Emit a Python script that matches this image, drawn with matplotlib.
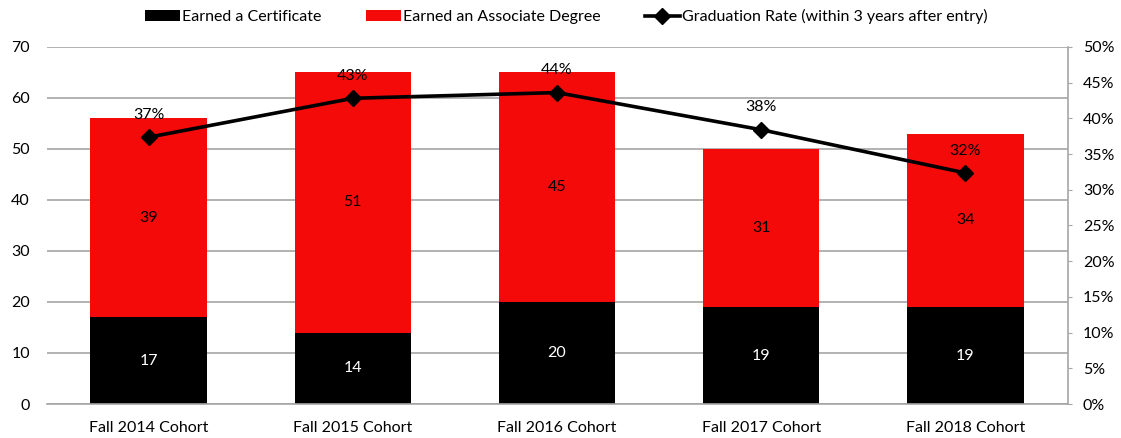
import numpy as np
import matplotlib
matplotlib.use('Agg')
import matplotlib.pyplot as plt
from matplotlib.ticker import FuncFormatter

plt.rcParams['font.family'] = ['Lato', 'DejaVu Sans']

cohorts = ['Fall 2014 Cohort', 'Fall 2015 Cohort', 'Fall 2016 Cohort',
           'Fall 2017 Cohort', 'Fall 2018 Cohort']
certificates = [17, 14, 20, 19, 19]
associates = [39, 51, 45, 31, 34]
grad_rate = [37.35, 42.8, 43.6, 38.4, 32.35]   # percent

fig = plt.figure(figsize=(11.21, 4.38), dpi=100)
ax = fig.add_axes([46.5 / 1121, 0.0776, 1021 / 1121, 0.8154])
ax2 = ax.twinx()

x = np.arange(len(cohorts))
w = 0.57
red = '#F50A0A'
grid_c = '#A6A6A6'

b1 = ax.bar(x, certificates, w, color='black', label='Earned a Certificate', zorder=2)
b2 = ax.bar(x, associates, w, bottom=certificates, color=red,
            label='Earned an Associate Degree', zorder=2)

for xi, c, a in zip(x, certificates, associates):
    ax.text(xi, c / 2, f'{c}', ha='center', va='center', color='white', fontsize=11.5)
    ax.text(xi, c + a / 2, f'{a}', ha='center', va='center', color='black', fontsize=11.5)

ax.set_xlim(-0.5, len(cohorts) - 0.5)
ax.set_ylim(0, 70)
ax.set_yticks(range(0, 71, 10))
ax.yaxis.grid(True, color=grid_c, linewidth=1.2)
ax.set_axisbelow(True)
ax.tick_params(axis='y', length=0, labelsize=11.5, pad=12)
ax.tick_params(axis='x', length=0, labelsize=11.5, pad=12)
ax.set_xticks(x)
ax.set_xticklabels(cohorts)
for s in ['top', 'left', 'right']:
    ax.spines[s].set_visible(False)
ax.spines['bottom'].set_color(grid_c)
ax.spines['bottom'].set_linewidth(1.2)

ln, = ax2.plot(x, grad_rate, color='black', linewidth=2.6, marker='D', markersize=8,
               label='Graduation Rate (within 3 years after entry)', zorder=5)
for xi, r in zip(x, grad_rate):
    ax2.annotate(f'{round(r):.0f}%', (xi, r), xytext=(0, 11), textcoords='offset points',
                 ha='center', va='bottom', fontsize=11.5)
ax2.set_ylim(0, 50)
ax2.set_yticks(range(0, 51, 5))
ax2.yaxis.set_major_formatter(FuncFormatter(lambda v, p: f'{v:.0f}%'))
ax2.tick_params(axis='y', length=3, color=grid_c, labelsize=11.5, pad=8)
for s in ['top', 'left', 'bottom']:
    ax2.spines[s].set_visible(False)
ax2.spines['right'].set_color(grid_c)
ax2.spines['right'].set_linewidth(1.2)

fig.legend(handles=[b1, b2, ln], loc='upper center', bbox_to_anchor=(0.505, 1.012),
           ncol=3, frameon=False, fontsize=11.5, handlelength=2.2, handleheight=0.6,
           handletextpad=0.1, columnspacing=2.8)

fig.savefig('out.png', dpi=100)
